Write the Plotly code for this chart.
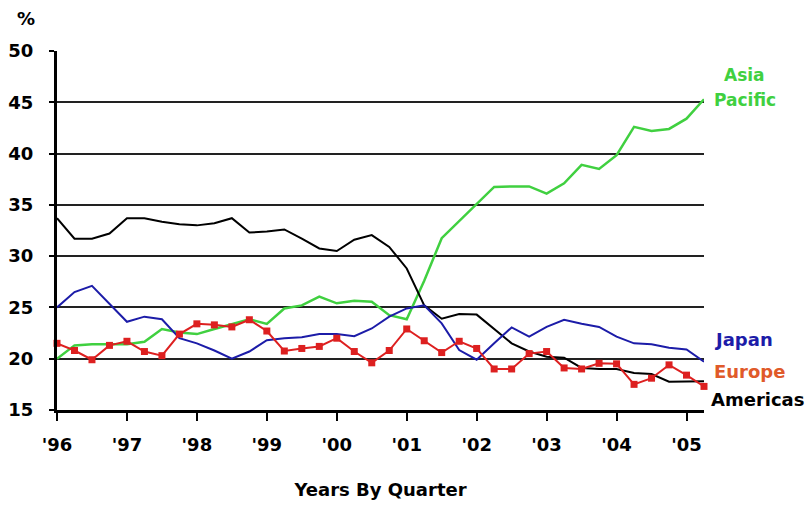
import plotly.graph_objects as go

quarters = list(range(38))  # 1996 Q1 .. 2005 Q2
year_tick_pos = [0, 4, 8, 12, 16, 20, 24, 28, 32, 36]
year_labels = ["'96", "'97", "'98", "'99", "'00", "'01", "'02", "'03", "'04", "'05"]
y_ticks = [15, 20, 25, 30, 35, 40, 45, 50]

americas = [33.7, 31.7, 31.7, 32.2, 33.7, 33.7, 33.35, 33.1, 33.0, 33.2,
            33.7, 32.3, 32.4, 32.6, 31.7, 30.75, 30.5, 31.6, 32.05, 30.9,
            28.8, 25.2, 23.9, 24.35, 24.3, 22.9, 21.5, 20.7, 20.2, 20.1,
            19.1, 19.0, 19.0, 18.6, 18.5, 17.75, 17.75, 17.8]
japan = [25.0, 26.5, 27.1, 25.4, 23.6, 24.1, 23.85, 22.0, 21.5, 20.8,
         20.0, 20.7, 21.8, 22.0, 22.1, 22.4, 22.4, 22.2, 22.95, 24.1,
         24.9, 25.2, 23.45, 20.85, 19.9, 21.5, 23.05, 22.15, 23.1, 23.8,
         23.4, 23.1, 22.15, 21.5, 21.4, 21.07, 20.9, 19.7]
europe = [21.5, 20.8, 19.9, 21.3, 21.7, 20.7, 20.3, 22.4, 23.4, 23.3,
          23.1, 23.8, 22.7, 20.75, 21.0, 21.2, 22.0, 20.7, 19.6, 20.8,
          22.9, 21.75, 20.6, 21.7, 21.0, 19.0, 19.0, 20.5, 20.7, 19.1,
          19.0, 19.55, 19.5, 17.5, 18.1, 19.4, 18.4, 17.3]
asia_pacific = [20.0, 21.3, 21.4, 21.4, 21.4, 21.65, 22.9, 22.55, 22.4, 22.9,
                23.4, 23.85, 23.4, 24.9, 25.2, 26.05, 25.4, 25.65, 25.55, 24.25,
                23.85, 27.6, 31.75, 33.4, 35.1, 36.75, 36.8, 36.8, 36.1, 37.1,
                38.9, 38.5, 39.85, 42.6, 42.2, 42.4, 43.4, 45.3]

FONT = "DejaVu Sans"
GREEN = "#40d040"
BLUE = "#1c1ca8"
RED = "#dd2020"

fig = go.Figure()
fig.add_trace(go.Scatter(x=quarters, y=asia_pacific, mode="lines", name="Asia Pacific",
                         line=dict(color=GREEN, width=2.5), cliponaxis=False))
fig.add_trace(go.Scatter(x=quarters, y=americas, mode="lines", name="Americas",
                         line=dict(color="black", width=2), cliponaxis=False))
fig.add_trace(go.Scatter(x=quarters, y=japan, mode="lines", name="Japan",
                         line=dict(color=BLUE, width=2), cliponaxis=False))
fig.add_trace(go.Scatter(x=quarters, y=europe, mode="lines+markers", name="Europe",
                         line=dict(color=RED, width=2),
                         marker=dict(symbol="square", size=7, color=RED),
                         cliponaxis=False))

annotations = [
    dict(text="%", x=-0.048, y=1.09, xanchor="center", yanchor="middle",
         font=dict(family=FONT, size=18, color="black")),
    dict(text="Asia", x=1.063, y=0.933, xanchor="center", yanchor="middle",
         font=dict(family=FONT, size=17, color=GREEN)),
    dict(text="Pacific", x=1.063, y=0.8635, xanchor="center", yanchor="middle",
         font=dict(family=FONT, size=17, color=GREEN)),
    dict(text="Japan", x=1.0124, y=0.195, xanchor="left", yanchor="middle",
         font=dict(family=FONT, size=18, color=BLUE)),
    dict(text="Europe", x=1.0124, y=0.106, xanchor="left", yanchor="middle",
         font=dict(family=FONT, size=18, color="#e05a2a")),
    dict(text="Americas", x=1.008, y=0.028, xanchor="left", yanchor="middle",
         font=dict(family=FONT, size=18, color="black")),
]
for a in annotations:
    a.update(xref="paper", yref="paper", showarrow=False)
    a["text"] = "<b>" + a["text"] + "</b>"

fig.update_layout(
    width=810, height=506,
    margin=dict(l=57, r=106, t=51, b=96),
    paper_bgcolor="white", plot_bgcolor="white",
    showlegend=False,
    annotations=annotations,
    font=dict(family=FONT, color="black"),
)
fig.update_xaxes(
    range=[0, 37], tickvals=year_tick_pos,
    ticktext=["<b>" + t + "</b>" for t in year_labels],
    tickfont=dict(family=FONT, size=18, color="black"),
    ticks="outside", ticklen=8, tickwidth=2, tickcolor="black",
    ticklabelstandoff=8,
    showline=True, linecolor="black", linewidth=3,
    showgrid=False, zeroline=False, automargin=False,
    title=dict(text="<b>Years By Quarter</b>", font=dict(family=FONT, size=18, color="black"),
               standoff=30),
)
fig.update_yaxes(
    range=[15, 50], tickvals=y_ticks,
    ticktext=["<b>%d</b>" % v for v in y_ticks],
    tickfont=dict(family=FONT, size=18, color="black"),
    ticks="outside", ticklen=5, tickwidth=2, tickcolor="black",
    ticklabelstandoff=12,
    showline=True, linecolor="black", linewidth=3,
    showgrid=True, gridcolor="#222222", gridwidth=1.5,
    zeroline=False, automargin=False,
)

fig.write_html("out.html", config={"displayModeBar": False},
               post_script="document.body.style.margin='0';")
